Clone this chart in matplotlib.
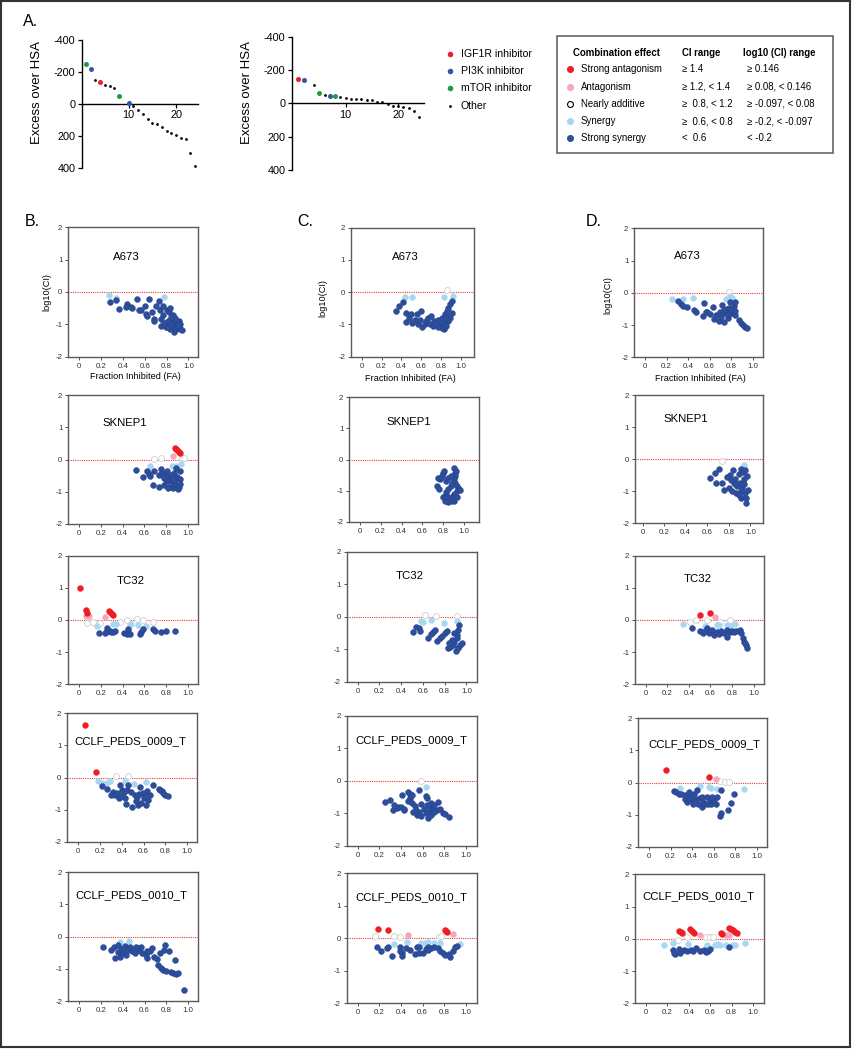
import matplotlib
matplotlib.use('Agg')
import matplotlib.pyplot as plt
from matplotlib.patches import Rectangle

plt.rcParams['font.family'] = ['Liberation Sans', 'DejaVu Sans']

# ---------------- DATA ----------------
# Panel A: excess over HSA by rank
a673_rank = [1, 2, 3, 4, 5, 6, 7, 8, 10, 11, 12, 13, 14, 15, 16, 17, 18, 19, 20, 21, 22, 23, 24]
a673_excess = [-248, -217, -147, -135, -118, -109, -101, -51, -8, 13, 36, 65, 95, 118, 124, 147,
               168, 185, 196, 211, 223, 309, 389]
a673_class = ['mTOR', 'PI3K', 'Other', 'IGF1R', 'Other', 'Other', 'Other', 'mTOR', 'PI3K',
              'Other', 'Other', 'Other', 'Other', 'Other', 'Other', 'Other', 'Other', 'Other',
              'Other', 'Other', 'Other', 'Other', 'Other']

tc32_rank = [1, 2, 4, 5, 6, 7, 8, 9, 10, 11, 12, 13, 14, 15, 16, 17, 18, 19, 20, 21, 22, 23, 24]
tc32_excess = [-144, -138, -112, -64, -50, -44, -42, -36, -32, -26, -24, -24, -20, -20, -10, -6,
               2, 16, 14, 20, 26, 46, 84]
tc32_class = ['IGF1R', 'PI3K', 'Other', 'mTOR', 'Other', 'PI3K', 'mTOR', 'Other', 'Other',
              'Other', 'Other', 'Other', 'Other', 'Other', 'Other', 'Other', 'Other', 'Other',
              'Other', 'Other', 'Other', 'Other', 'Other']

drug_classes = ['IGF1R', 'PI3K', 'mTOR', 'Other']
drug_labels = ['IGF1R inhibitor', 'PI3K inhibitor', 'mTOR inhibitor', 'Other']

# Combination-effect legend table
effect_names = ['Strong antagonism', 'Antagonism', 'Nearly additive', 'Synergy', 'Strong synergy']
ci_ranges = ['\u2265 1.4', '\u2265 1.2, < 1.4', '\u2265  0.8, < 1.2', '\u2265  0.6, < 0.8', '<  0.6']
log_ranges = ['\u2265 0.146', '\u2265 0.08, < 0.146', '\u2265 -0.097, < 0.08',
              '\u2265 -0.2, < -0.097', '< -0.2']
log_thresholds = [0.146, 0.08, -0.097, -0.2]

cell_lines = ['A673', 'SKNEP1', 'TC32', 'CCLF_PEDS_0009_T', 'CCLF_PEDS_0010_T']
column_letters = ['B.', 'C.', 'D.']

# (fraction inhibited, log10(CI)) pairs
b_a673 = [(.27, -.10), (.335, -.18), (.78, -.15), (.28, -.32), (.34, -.26), (.36, -.54), (.44, -.36),
          (.43, -.47), (.47, -.45), (.48, -.50), (.53, -.23), (.55, -.55), (.57, -.57), (.60, -.43),
          (.61, -.67), (.62, -.74), (.64, -.23), (.67, -.62), (.68, -.83), (.68, -.91), (.70, -.44),
          (.73, -.29), (.74, -.57), (.75, -.85), (.77, -.43), (.77, -.70), (.80, -.55), (.82, -.62),
          (.83, -.50), (.75, -1.05), (.79, -1.08), (.82, -.98), (.85, -.88), (.86, -.83), (.88, -.93),
          (.89, -.98), (.86, -1.08), (.87, -1.24), (.89, -1.14), (.91, -1.08), (.92, -1.14),
          (.94, -1.16), (.83, -1.14), (.80, -1.08), (.86, -.72), (.88, -.80), (.91, -.91), (.92, -.98),
          (.84, -.78), (.81, -.89), (.78, -.96), (.88, -1.05), (.90, -1.03), (.85, -1.01)]
b_sknep1 = [(.88, .35), (.89, .32), (.90, .28), (.92, .24), (.93, .20), (.86, .11), (.69, .03),
            (.75, .05), (.95, .05), (.96, .06), (.65, -.19), (.85, -.19), (.94, -.13), (.89, -.19),
            (.52, -.32), (.59, -.53), (.62, -.37), (.64, -.45), (.65, -.51), (.68, -.79), (.69, -.35),
            (.73, -.49), (.73, -.84), (.75, -.29), (.76, -.42), (.78, -.79), (.79, -.44), (.81, -.37),
            (.81, -.53), (.82, -.68), (.83, -.84), (.84, -.47), (.85, -.58), (.86, -.74), (.86, -.89),
            (.87, -.42), (.88, -.63), (.89, -.26), (.89, -.79), (.90, -.53), (.91, -.93), (.92, -.84),
            (.93, -.37), (.93, -.61), (.93, -.76), (.80, -.63), (.78, -.58), (.82, -.89), (.86, -.65)]
b_tc32 = [(.01, 1.0), (.06, .32), (.07, .23), (.27, .28), (.28, .24), (.30, .20), (.31, .16),
          (.06, .13), (.09, .13), (.24, .10), (.07, -.08), (.13, -.05), (.19, -.08), (.38, -.05),
          (.44, 0.0), (.53, .02), (.59, 0.0), (.68, -.05), (.16, -.18), (.31, -.12), (.34, -.13),
          (.47, -.16), (.48, -.11), (.54, -.17), (.61, -.18), (.18, -.39), (.25, -.37), (.26, -.26),
          (.28, -.34), (.29, -.37), (.31, -.37), (.33, -.34), (.41, -.39), (.44, -.42), (.45, -.37),
          (.45, -.29), (.47, -.42), (.56, -.45), (.57, -.37), (.59, -.29), (.68, -.29), (.70, -.34),
          (.75, -.37), (.80, -.35), (.88, -.34), (.24, -.40)]
b_0009 = [(.06, 1.63), (.16, .16), (.35, .06), (.46, .06), (.18, -.12), (.22, -.18), (.26, -.18),
          (.29, -.12), (.43, -.11), (.51, -.19), (.62, -.14), (.22, -.28), (.26, -.36), (.32, -.46),
          (.34, -.54), (.37, -.64), (.38, -.23), (.40, -.38), (.42, -.46), (.43, -.64), (.45, -.40),
          (.46, -.23), (.48, -.46), (.44, -.81), (.49, -.92), (.53, -.74), (.54, -.61), (.56, -.51),
          (.57, -.31), (.55, -.85), (.58, -.79), (.60, -.64), (.62, -.85), (.63, -.43), (.64, -.69),
          (.66, -.54), (.69, -.23), (.74, -.36), (.75, -.40), (.77, -.43), (.78, -.48), (.80, -.53),
          (.82, -.57), (.36, -.48), (.30, -.54), (.39, -.57), (.52, -.54), (.59, -.48), (.62, -.59)]
b_0010 = [(.37, -.18), (.46, -.13), (.22, -.33), (.29, -.41), (.32, -.33), (.33, -.67), (.36, -.49),
          (.37, -.62), (.38, -.39), (.40, -.52), (.42, -.29), (.43, -.57), (.45, -.41), (.47, -.31),
          (.48, -.46), (.49, -.39), (.51, -.52), (.54, -.36), (.55, -.43), (.57, -.33), (.58, -.52),
          (.61, -.57), (.62, -.67), (.65, -.46), (.67, -.36), (.69, -.62), (.71, -.70), (.72, -.88),
          (.74, -.52), (.75, -.96), (.77, -1.05), (.78, -.41), (.79, -.25), (.80, -1.08), (.82, -.46),
          (.84, -1.11), (.86, -1.13), (.88, -.72), (.89, -1.16), (.91, -1.13), (.96, -1.67),
          (.41, -.36), (.36, -.26), (.52, -.31), (.62, -.46)]

c_a673 = [(.44, -.14), (.51, -.15), (.83, -.15), (.92, -.13), (.86, .06), (.35, -.57), (.38, -.43),
          (.42, -.30), (.45, -.64), (.45, -.92), (.48, -.81), (.50, -.69), (.51, -.95), (.54, -.85),
          (.56, -.69), (.57, -.98), (.59, -.85), (.60, -.57), (.61, -1.08), (.64, -1.0), (.65, -.90),
          (.67, -.79), (.69, -1.0), (.70, -.74), (.72, -1.05), (.73, -.90), (.76, -1.0), (.77, -.85),
          (.79, -.95), (.81, -.79), (.82, -1.05), (.83, -1.15), (.84, -.69), (.86, -.59), (.87, -.90),
          (.87, -.48), (.89, -.38), (.89, -.79), (.91, -.28), (.91, -.64), (.83, -.95), (.81, -1.10),
          (.77, -1.07), (.74, -.95), (.85, -1.05), (.88, -.64), (.85, -.81)]
c_sknep1 = [(.90, -.26), (.91, -.42), (.92, -.37), (.91, -.53), (.90, -.63), (.91, -.74), (.93, -.84),
            (.95, -.95), (.93, -1.0), (.90, -1.1), (.88, -1.21), (.87, -1.32), (.83, -1.26),
            (.82, -1.16), (.83, -1.05), (.85, -.95), (.87, -.84), (.80, -.42), (.79, -.53), (.77, -.63),
            (.75, -.61), (.74, -.84), (.76, -.95), (.83, -.68), (.85, -.58), (.87, -.53), (.88, -.74),
            (.90, -1.32), (.85, -1.37), (.82, -1.32), (.80, -1.21), (.84, -1.16), (.93, -1.21),
            (.96, -.97), (.78, -.55), (.81, -.37)]
c_tc32 = [(.62, .05), (.72, .02), (.91, .02), (.58, -.13), (.60, -.15), (.67, -.11), (.79, -.18),
          (.91, -.12), (.51, -.46), (.54, -.31), (.56, -.36), (.57, -.43), (.65, -.66), (.67, -.53),
          (.69, -.46), (.71, -.41), (.73, -.74), (.76, -.66), (.78, -.59), (.80, -.51), (.82, -.43),
          (.83, -.97), (.85, -.92), (.88, -.87), (.89, -.77), (.91, -.66), (.91, -.56), (.92, -.41),
          (.93, -.26), (.90, -1.07), (.92, -.97), (.94, -.87), (.96, -.80), (.89, -.51), (.87, -.71),
          (.84, -.82)]
c_0009 = [(.63, -.18), (.59, 0.0), (.25, -.66), (.30, -.59), (.33, -.88), (.36, -.82), (.37, -.80),
          (.40, -.80), (.41, -.44), (.43, -.90), (.47, -.34), (.48, -.54), (.48, -.39), (.50, -.44),
          (.47, -.61), (.50, -.67), (.51, -.95), (.53, -.77), (.55, -1.05), (.57, -.95), (.57, -.27),
          (.59, -.71), (.59, -1.08), (.61, -.85), (.63, -.47), (.64, -.54), (.65, -1.15), (.66, -.95),
          (.67, -.80), (.68, -.67), (.70, -.85), (.71, -.74), (.73, -.90), (.74, -.64), (.76, -.85),
          (.79, -.98), (.81, -1.02), (.84, -1.12), (.34, -.74), (.43, -.85), (.54, -.90), (.68, -1.05),
          (.63, -1.0), (.71, -.95), (.64, -.74)]
c_0010 = [(.19, .28), (.28, .26), (.81, .26), (.82, .23), (.83, .20), (.47, .10), (.88, .12),
          (.16, .07), (.34, .07), (.39, .05), (.75, .05), (.77, .07), (.34, -.16), (.46, -.12),
          (.59, -.15), (.65, -.12), (.71, -.13), (.76, -.15), (.95, -.16), (.62, -.15), (.18, -.28),
          (.22, -.38), (.27, -.31), (.28, -.28), (.32, -.53), (.39, -.28), (.41, -.46), (.41, -.54),
          (.48, -.36), (.53, -.48), (.55, -.28), (.57, -.28), (.57, -.46), (.60, -.44), (.63, -.34),
          (.65, -.28), (.68, -.31), (.71, -.28), (.74, -.31), (.76, -.38), (.79, -.46), (.81, -.51),
          (.84, -.48), (.85, -.56), (.88, -.38), (.90, -.28), (.92, -.23), (.39, -.38), (.45, -.31),
          (.65, -.36)]

d_a673 = [(.25, -.19), (.35, -.18), (.45, -.16), (.75, -.19), (.79, -.11), (.81, -.16), (.78, .03),
          (.31, -.24), (.33, -.35), (.35, -.42), (.39, -.44), (.46, -.53), (.47, -.58), (.55, -.32),
          (.54, -.71), (.57, -.60), (.58, -.58), (.60, -.65), (.63, -.45), (.64, -.81), (.66, -.68),
          (.69, -.87), (.71, -.74), (.72, -.37), (.73, -.89), (.74, -.63), (.76, -.51), (.77, -.79),
          (.78, -.47), (.79, -.28), (.80, -.63), (.81, -.53), (.83, -.42), (.84, -.29), (.84, -.68),
          (.84, -.55), (.87, -.84), (.89, -.95), (.91, -1.0), (.93, -1.05), (.95, -1.1), (.73, -.53),
          (.70, -.58), (.77, -.68)]
d_sknep1 = [(.94, -.19), (.74, -.05), (.63, -.59), (.67, -.44), (.68, -.73), (.71, -.30), (.74, -.73),
            (.76, -.95), (.78, -.57), (.80, -.89), (.81, -.48), (.83, -.98), (.84, -.33), (.85, -.73),
            (.86, -.62), (.87, -1.05), (.88, -.84), (.89, -.46), (.90, -.73), (.91, -.30), (.91, -1.0),
            (.91, -1.22), (.92, -.89), (.93, -.41), (.94, -.62), (.94, -.78), (.95, -1.05),
            (.96, -1.22), (.96, -1.38), (.97, -.52), (.98, -.95), (.95, -.35), (.89, -1.11),
            (.86, -.78), (.82, -.66)]
d_tc32 = [(.50, .15), (.60, .21), (.64, .10), (.41, -.07), (.47, 0.0), (.57, 0.0), (.69, -.05),
          (.78, 0.0), (.35, -.12), (.55, -.18), (.66, -.15), (.68, -.16), (.75, -.15), (.78, -.18),
          (.83, -.13), (.43, -.26), (.50, -.34), (.53, -.39), (.57, -.26), (.59, -.39), (.61, -.31),
          (.63, -.46), (.66, -.36), (.68, -.43), (.70, -.33), (.73, -.41), (.75, -.52), (.75, -.31),
          (.78, -.36), (.80, -.33), (.82, -.36), (.84, -.33), (.87, -.31), (.88, -.41), (.90, -.57),
          (.91, -.67), (.93, -.77), (.94, -.88), (.92, -.72), (.55, -.33)]
d_0009 = [(.16, .39), (.56, .16), (.62, .11), (.66, .04), (.71, .02), (.74, .01), (.29, -.16),
          (.47, -.11), (.56, -.14), (.58, -.16), (.63, -.19), (.88, -.19), (.23, -.27), (.25, -.29),
          (.28, -.37), (.33, -.51), (.33, -.40), (.35, -.61), (.37, -.29), (.38, -.45), (.40, -.56),
          (.42, -.37), (.44, -.51), (.45, -.24), (.46, -.66), (.47, -.47), (.49, -.77), (.50, -.61),
          (.52, -.68), (.54, -.45), (.55, -.66), (.57, -.56), (.58, -.68), (.60, -.51), (.62, -.68),
          (.63, -.45), (.66, -1.03), (.67, -.96), (.67, -.22), (.73, -.87), (.76, -.64), (.79, -.37),
          (.41, -.68), (.37, -.51), (.30, -.35), (.49, -.45), (.59, -.45)]
d_0010 = [(.31, .24), (.33, .21), (.34, .18), (.41, .29), (.43, .24), (.45, .19), (.70, .19),
          (.71, .15), (.77, .34), (.79, .30), (.81, .26), (.83, .22), (.85, .18), (.50, .13),
          (.75, .13), (.77, .12), (.30, -.05), (.38, .05), (.56, .07), (.60, .05), (.63, .07),
          (.17, -.18), (.25, -.12), (.39, -.15), (.57, -.18), (.64, -.19), (.66, -.15), (.69, -.18),
          (.75, -.18), (.81, -.18), (.83, -.18), (.92, -.12), (.25, -.36), (.27, -.48), (.31, -.31),
          (.32, -.44), (.36, -.34), (.38, -.38), (.42, -.34), (.44, -.38), (.47, -.28), (.50, -.38),
          (.54, -.34), (.56, -.41), (.58, -.38), (.60, -.31), (.77, -.26), (.26, -.44)]

panels = [[b_a673, b_sknep1, b_tc32, b_0009, b_0010],
          [c_a673, c_sknep1, c_tc32, c_0009, c_0010],
          [d_a673, d_sknep1, d_tc32, d_0009, d_0010]]

# ---------------- STYLE / LAYOUT ----------------
W, H = 853, 1050
fig = plt.figure(figsize=(W / 100, H / 100), dpi=100)

ov = fig.add_axes([0, 0, 1, 1])
ov.set_xlim(0, W)
ov.set_ylim(H, 0)
ov.axis('off')


def axes_px(l, t, r, b):
    return fig.add_axes([l / W, 1 - b / H, (r - l) / W, (b - t) / H])


drug_colors = {'IGF1R': '#e8202a', 'PI3K': '#3556a8', 'mTOR': '#1f9a48', 'Other': '#000000'}
effect_face = ['#ee1d23', '#f4a6ba', '#ffffff', '#a8d8f1', '#2d4e9c']
effect_edge = ['#ee1d23', '#f4a6ba', '#cfcfcf', '#a8d8f1', '#23428a']


def effect_index(v):
    if v >= log_thresholds[0]:
        return 0
    if v >= log_thresholds[1]:
        return 1
    if v >= log_thresholds[2]:
        return 2
    if v >= log_thresholds[3]:
        return 3
    return 4


# ---------- Panel A ----------
def rank_panel(box, xlim, ranks, vals, classes, title, title_xy, rank_xy, ylab_x):
    ax = axes_px(*box)
    ax.set_xlim(*xlim)
    ax.set_ylim(400, -400)
    for s in ['top', 'right']:
        ax.spines[s].set_visible(False)
    ax.spines['bottom'].set_position(('data', 0))
    for s in ['left', 'bottom']:
        ax.spines[s].set_linewidth(1.0)
    ax.set_yticks([-400, -200, 0, 200, 400])
    ax.set_yticklabels(['-400', '-200', '0', '200', '400'])
    ax.set_xticks([10, 20])
    ax.tick_params(axis='both', labelsize=7.8, length=3, width=0.9, pad=1.5, direction='out')
    for cls in drug_classes:
        xs = [r for r, c in zip(ranks, classes) if c == cls]
        ys = [v for v, c in zip(vals, classes) if c == cls]
        ax.scatter(xs, ys, s=4 if cls == 'Other' else 13, color=drug_colors[cls],
                   linewidths=0, zorder=3, clip_on=False)
    ov.text(title_xy[0], title_xy[1], title, fontsize=9.8, ha='center', va='center')
    ov.text(rank_xy[0], rank_xy[1], 'Rank', fontsize=9.5, ha='center', va='center')
    ov.text(ylab_x, 92, 'Excess over HSA', fontsize=9.5, rotation=90, ha='center', va='center')


rank_panel((81.7, 40, 198.3, 167.7), (0.1, 24.7), a673_rank, a673_excess, a673_class,
           'A673', (150, 52), (143, 142), 37.5)
rank_panel((291.7, 36.7, 424, 170), (-0.26, 24.9), tc32_rank, tc32_excess, tc32_class,
           'TC32', (371, 52), (364, 142), 247.5)

# drug legend
for i, (cls, lab) in enumerate(zip(drug_classes, drug_labels)):
    y = 54 + i * 17.2
    ov.scatter([450], [y], s=4 if cls == 'Other' else 16, color=drug_colors[cls], linewidths=0)
    ov.text(461, y, lab, fontsize=7.6, ha='left', va='center')

# combination effect legend box
ov.add_patch(Rectangle((557.3, 35.7), 276, 117.6, fill=False, edgecolor='#666666', lw=1.2))
ov.text(572.7, 52.7, 'Combination effect', fontsize=6.9, fontweight='bold', ha='left', va='center')
ov.text(681.7, 52.7, 'CI range', fontsize=6.9, fontweight='bold', ha='left', va='center')
ov.text(742.7, 52.7, 'log10 (CI) range', fontsize=6.9, fontweight='bold', ha='left', va='center')
for i in range(5):
    y = 69.3 + i * 17.25
    ec = '#000000' if i == 2 else effect_face[i]
    ov.scatter([570], [y], s=18, facecolor=effect_face[i], edgecolor=ec, linewidths=0.8)
    ov.text(580.7, y, effect_names[i], fontsize=6.9, ha='left', va='center')
    ov.text(682, y, ci_ranges[i], fontsize=6.9, ha='left', va='center')
    ov.text(746.7, y, log_ranges[i], fontsize=6.9, ha='left', va='center')

# letters
ov.text(23, 21, 'A.', fontsize=11.5, ha='left', va='center')
letter_x = [25, 297, 586]
for lx, lt in zip(letter_x, column_letters):
    ov.text(lx, 221, lt, fontsize=11.5, ha='left', va='center')

# ---------- Panels B, C, D ----------
boxes = [
    [(68.3, 227.3, 198.3, 356.7), (68.3, 395, 197.7, 524), (68.3, 555.7, 197.7, 684.3),
     (67.3, 713.3, 197, 841.7), (68.3, 872.3, 198, 1001)],
    [(351, 227.7, 474, 356.7), (349.3, 397.3, 479.3, 521.7), (346.7, 551.7, 477.3, 681.7),
     (346.7, 715.7, 476.7, 846), (346.7, 873.3, 476.7, 1003.3)],
    [(634.3, 228.3, 763.3, 357.3), (635, 395, 763.3, 523.3), (635, 555.7, 764.3, 684.3),
     (638.3, 718.3, 767.3, 846.7), (635, 874.3, 764, 1003.3)],
]
xlims = [
    [(-0.1, 1.09)] * 5,
    [(-0.107, 1.13), (-0.1, 1.145), (-0.1, 1.1), (-0.1, 1.1), (-0.1, 1.1)],
    [(-0.1, 1.1), (-0.07, 1.12), (-0.1, 1.1), (-0.1, 1.1), (-0.1, 1.1)],
]
title_pos = [
    [(0.45, 0.77), (0.44, 0.78), (0.48, 0.80), (0.49, 0.78), (0.49, 0.82)],
    [(0.445, 0.775), (0.455, 0.80), (0.485, 0.81), (0.50, 0.81), (0.495, 0.82)],
    [(0.41, 0.785), (0.395, 0.815), (0.485, 0.82), (0.51, 0.80), (0.49, 0.83)],
]
ylab_pos = [(46.7, 291.7), (323.3, 298.3), (608.3, 295)]
xlab_pos = [(135, 376.7), (410, 378.3), (700, 378.3)]

for ci_col in range(3):
    for r in range(5):
        ax = axes_px(*boxes[ci_col][r])
        ax.set_xlim(*xlims[ci_col][r])
        ax.set_ylim(-2, 2)
        for s in ax.spines.values():
            s.set_color('#5a5a5a')
            s.set_linewidth(1.0)
        ax.set_xticks([0, 0.2, 0.4, 0.6, 0.8, 1.0])
        ax.set_xticklabels(['0', '0.2', '0.4', '0.6', '0.8', '1.0'])
        ax.set_yticks([-2, -1, 0, 1, 2])
        ax.set_yticklabels(['-2', '-1', '0', '1', '2'])
        ax.tick_params(labelsize=5.7, length=2.2, width=0.6, pad=2, colors='#333333')
        ax.axhline(0, color='#f03c3c', lw=0.8, ls=(0, (1, 1)), zorder=1)
        pts = panels[ci_col][r]
        for k in [2, 3, 4, 1, 0]:
            sel = [p for p in pts if effect_index(p[1]) == k]
            if not sel:
                continue
            ax.scatter([p[0] for p in sel], [p[1] for p in sel], s=18,
                       facecolor=effect_face[k], edgecolor=effect_edge[k],
                       linewidths=0.6 if k == 2 else 0.3, zorder=3)
        tx, ty = title_pos[ci_col][r]
        ax.text(tx, ty, cell_lines[r], transform=ax.transAxes, fontsize=8.2,
                ha='center', va='center')
    ov.text(ylab_pos[ci_col][0], ylab_pos[ci_col][1], 'log10(CI)', fontsize=6.6,
            rotation=90, ha='center', va='center')
    ov.text(xlab_pos[ci_col][0], xlab_pos[ci_col][1], 'Fraction Inhibited (FA)', fontsize=6.6,
            ha='center', va='center')

# outer frame
ov.add_patch(Rectangle((1, 1), 849, 1046, fill=False, edgecolor='#333333', lw=1.5))

fig.savefig('out.png', dpi=100)
